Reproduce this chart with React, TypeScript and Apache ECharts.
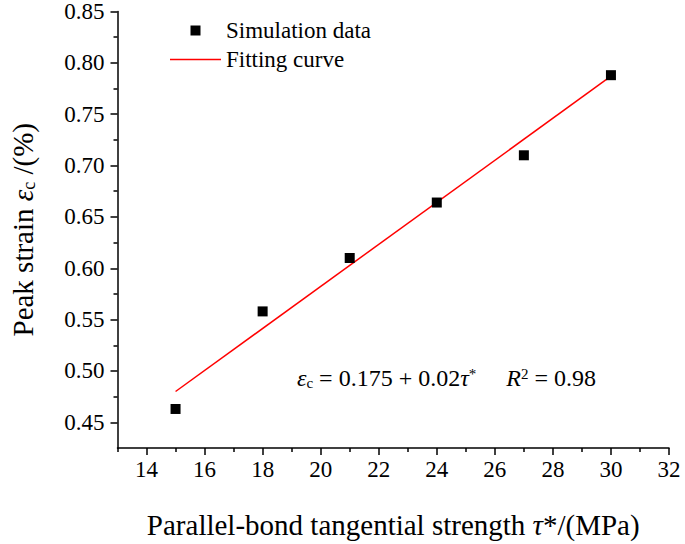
import React, { useEffect, useRef } from "react";
import * as echarts from "echarts";

const strengthValues = [15, 18, 21, 24, 27, 30];
const peakStrainValues = [0.463, 0.558, 0.61, 0.664, 0.71, 0.788];
const fitX = [15, 30];
const fitY = [0.48, 0.787];
const xMajorTicks = [14, 16, 18, 20, 22, 24, 26, 28, 30, 32];
const xMinorTicks = [13, 15, 17, 19, 21, 23, 25, 27, 29, 31];
const yMajorTicks = [0.45, 0.5, 0.55, 0.6, 0.65, 0.7, 0.75, 0.8, 0.85];
const yMinorTicks = [0.475, 0.525, 0.575, 0.625, 0.675, 0.725, 0.775, 0.825];

const FONT = "'Liberation Serif', 'Times New Roman', serif";

export default function App() {
  const ref = useRef<HTMLDivElement>(null);
  useEffect(() => {
    if (!ref.current) return;
    const chart = echarts.init(ref.current, undefined, { renderer: "svg" });
    const axisLine = { show: true, lineStyle: { color: "#000", width: 1.5 } };
    const xBase = { type: "value", min: 13, max: 32, splitLine: { show: false } };
    const yBase = { type: "value", min: 0.425, max: 0.85, splitLine: { show: false } };
    chart.setOption({
      animation: false,
      backgroundColor: "#fff",
      textStyle: { fontFamily: FONT, color: "#000" },
      grid: { left: 113, top: 11, right: 16, bottom: 87, containLabel: false },
      legend: {
        orient: "vertical",
        left: 170,
        top: 19,
        padding: 0,
        itemWidth: 51,
        itemHeight: 10,
        itemGap: 6,
        textStyle: { fontFamily: FONT, fontSize: 23, color: "#000" },
        data: [
          { name: "Simulation data", icon: "path://M0,0L10,0L10,10L0,10Z" },
          { name: "Fitting curve", icon: "path://M0,0L51,0L51,1.5L0,1.5Z" },
        ],
      },
      xAxis: [
        {
          ...xBase,
          axisLine,
          axisTick: { show: true, length: 7, customValues: xMajorTicks, lineStyle: { color: "#000", width: 1.5 } },
          axisLabel: { customValues: xMajorTicks, fontFamily: FONT, fontSize: 23, color: "#000", margin: 10 },
          name: "{a|Parallel-bond tangential strength }{i|τ}{a|*/(MPa)}",
          nameLocation: "middle",
          nameGap: 62,
          nameTextStyle: {
            fontFamily: FONT,
            rich: {
              a: { fontFamily: FONT, fontSize: 29, color: "#000" },
              i: { fontFamily: FONT, fontSize: 29, fontStyle: "italic", color: "#000" },
            },
          },
        },
        {
          ...xBase,
          position: "bottom",
          axisLine: { show: false },
          axisTick: { show: true, length: 4, customValues: xMinorTicks, lineStyle: { color: "#000", width: 1.5 } },
          axisLabel: { show: false },
        },
      ],
      yAxis: [
        {
          ...yBase,
          axisLine,
          axisTick: { show: true, length: 7, customValues: yMajorTicks, lineStyle: { color: "#000", width: 1.5 } },
          axisLabel: {
            customValues: yMajorTicks,
            fontFamily: FONT,
            fontSize: 23,
            color: "#000",
            margin: 13,
            formatter: (v: number) => v.toFixed(2),
          },
          name: "{a|Peak strain }{i|ε}{s|c}{a| /(%)}",
          nameLocation: "middle",
          nameGap: 80,
          nameTextStyle: {
            fontFamily: FONT,
            rich: {
              a: { fontFamily: FONT, fontSize: 29, color: "#000" },
              i: { fontFamily: FONT, fontSize: 29, fontStyle: "italic", color: "#000" },
              s: { fontFamily: FONT, fontSize: 18, color: "#000", verticalAlign: "bottom", padding: [12, 0, 0, 0] },
            },
          },
        },
        {
          ...yBase,
          position: "left",
          axisLine: { show: false },
          axisTick: { show: true, length: 4, customValues: yMinorTicks, lineStyle: { color: "#000", width: 1.5 } },
          axisLabel: { show: false },
        },
      ],
      graphic: [
        {
          type: "text",
          left: 297,
          top: 366,
          style: {
            text: "{i|ε}{s|c}{n| = 0.175 + 0.02}{i|τ}{p|*}{n|     }{i|R}{p|2}{n| = 0.98}",
            fontFamily: FONT,
            fontSize: 24,
            fill: "#000",
            rich: {
              n: { fontFamily: FONT, fontSize: 24, color: "#000" },
              i: { fontFamily: FONT, fontSize: 24, fontStyle: "italic", color: "#000" },
              s: { fontFamily: FONT, fontSize: 15, color: "#000", verticalAlign: "bottom", padding: [8, 0, 0, 0] },
              p: { fontFamily: FONT, fontSize: 15, color: "#000", verticalAlign: "top" },
            },
          },
        },
      ],
      series: [
        {
          name: "Simulation data",
          type: "scatter",
          xAxisIndex: 0,
          yAxisIndex: 0,
          symbol: "rect",
          symbolSize: 10,
          itemStyle: { color: "#000", opacity: 1 },
          data: strengthValues.map((x, i) => [x, peakStrainValues[i]]),
          z: 3,
        },
        {
          name: "Fitting curve",
          type: "line",
          xAxisIndex: 0,
          yAxisIndex: 0,
          symbol: "none",
          lineStyle: { color: "#ff0000", width: 1.5 },
          itemStyle: { color: "#ff0000" },
          data: fitX.map((x, i) => [x, fitY[i]]),
          z: 2,
        },
      ],
    });
    return () => chart.dispose();
  }, []);
  return (
    <div
      ref={ref}
      style={{ position: "absolute", left: 0, top: 0, width: 685, height: 544 }}
    />
  );
}
